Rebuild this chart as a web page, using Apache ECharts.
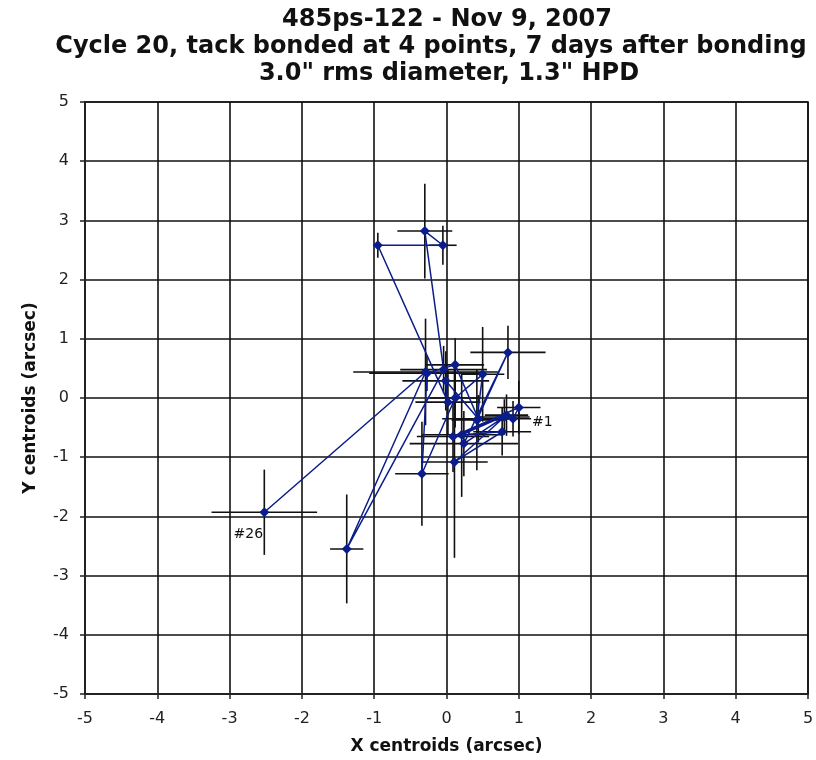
<!DOCTYPE html>
<html><head><meta charset="utf-8">
<script src="https://cdn.jsdelivr.net/npm/echarts@6/dist/echarts.min.js"></script>
<style>html,body{margin:0;padding:0;background:#fff}#c{width:816px;height:760px}</style>
</head><body><div id="c"></div>
<script>
const titleLines = ['485ps-122 - Nov 9, 2007', 'Cycle 20, tack bonded at 4 points, 7 days after bonding', '3.0" rms diameter, 1.3" HPD'];
const xName = 'X centroids (arcsec)';
const yName = 'Y centroids (arcsec)';
const pointLabels = ['#1', '#26'];
const xCentroids = [0.92, 1.00, 0.09, 0.83, 0.21, 0.77, 0.11, 0.80, 0.24, 0.85, 0.42, 0.50, 0.12, -0.34, -0.27, 0.12, 0.44, -0.01, 0.02, -0.95, -0.05, -0.30, -0.04, -1.38, -0.29, -2.52];
const yCentroids = [-0.35, -0.16, -0.65, -0.29, -0.62, -0.57, -1.08, -0.32, -0.77, 0.77, -0.37, 0.40, 0.00, -1.28, 0.42, 0.56, -0.35, 0.29, -0.07, 2.58, 2.58, 2.82, 0.48, -2.55, 0.44, -1.93];
const xErrors = [0.25, 0.30, 0.50, 0.30, 0.55, 0.40, 0.46, 0.35, 0.75, 0.52, 0.35, 0.30, 0.35, 0.37, 0.80, 0.40, 0.50, 0.60, 0.45, 0.02, 0.19, 0.38, 0.60, 0.23, 1.00, 0.73];
const yErrors = [0.30, 0.45, 0.60, 0.35, 1.05, 0.40, 1.62, 0.30, 0.55, 0.45, 0.85, 0.80, 0.50, 0.88, 0.30, 0.45, 0.40, 0.50, 0.55, 0.21, 0.33, 0.80, 0.40, 0.92, 0.90, 0.72];

const FONT = '"DejaVu Sans", Verdana, sans-serif';
const n = xCentroids.length;
const errData = xCentroids.map((x, i) => [x, yCentroids[i], xErrors[i], yErrors[i]]);
const lineData = xCentroids.map((x, i) => {
  const d = { value: [x, yCentroids[i]] };
  if (i === 0) d.label = { show: true, formatter: pointLabels[0], position: 'right', distance: 14, offset: [0, 4] };
  if (i === n - 1) d.label = { show: true, formatter: pointLabels[1], position: 'bottom', distance: 10, offset: [-16, 0] };
  return d;
});

const chart = echarts.init(document.getElementById('c'), null, { renderer: 'canvas' });
const axisCommon = {
  min: -5, max: 5, interval: 1,
  nameLocation: 'middle',
  nameTextStyle: { fontFamily: FONT, fontSize: 17, fontWeight: 'bold', color: '#111' },
  axisLine: { onZero: false, lineStyle: { color: '#222', width: 2 } },
  axisTick: { show: true, inside: false, length: 5, lineStyle: { color: '#222', width: 1.5 } },
  axisLabel: { fontFamily: FONT, fontSize: 16, color: '#222' },
  splitLine: { show: true, lineStyle: { color: '#111', width: 1.6 } }
};
const titleStyle = { fontFamily: FONT, fontSize: 24, fontWeight: 'bold', color: '#111' };
const titleCenters = [447, 431, 449];
const titleTops = [8, 35, 62];
chart.setOption({
  backgroundColor: '#fff',
  animation: false,
  title: titleLines.map((t, i) => ({
    text: t, left: titleCenters[i], top: titleTops[i], textAlign: 'center', padding: 0,
    textStyle: titleStyle
  })),
  grid: { left: 85, right: 8, top: 102, bottom: 66, show: true, borderColor: '#222', borderWidth: 1.6, containLabel: false, outerBoundsMode: 'none' },
  xAxis: Object.assign({}, axisCommon, { type: 'value', name: xName, nameGap: 44, axisLabel: Object.assign({}, axisCommon.axisLabel, { margin: 17 }) }),
  yAxis: Object.assign({}, axisCommon, { type: 'value', name: yName, nameGap: 46, axisLabel: Object.assign({}, axisCommon.axisLabel, { margin: 16 }) }),
  series: [
    {
      type: 'custom',
      z: 1,
      data: errData,
      encode: { x: 0, y: 1 },
      renderItem: function (params, api) {
        const x = api.value(0), y = api.value(1), ex = api.value(2), ey = api.value(3);
        const l = api.coord([x - ex, y]), r = api.coord([x + ex, y]);
        const t = api.coord([x, y + ey]), b = api.coord([x, y - ey]);
        return {
          type: 'group',
          children: [
            { type: 'line', shape: { x1: l[0], y1: l[1], x2: r[0], y2: r[1] }, style: { stroke: '#111', lineWidth: 1.6 } },
            { type: 'line', shape: { x1: t[0], y1: t[1], x2: b[0], y2: b[1] }, style: { stroke: '#111', lineWidth: 1.6 } }
          ]
        };
      }
    },
    {
      type: 'line',
      z: 3,
      data: lineData,
      symbol: 'diamond',
      symbolSize: 10,
      lineStyle: { color: '#0b1d8a', width: 1.5 },
      itemStyle: { color: '#0b1d8a' },
      label: { fontFamily: FONT, fontSize: 14, color: '#111' }
    }
  ]
});
</script>
</body></html>
